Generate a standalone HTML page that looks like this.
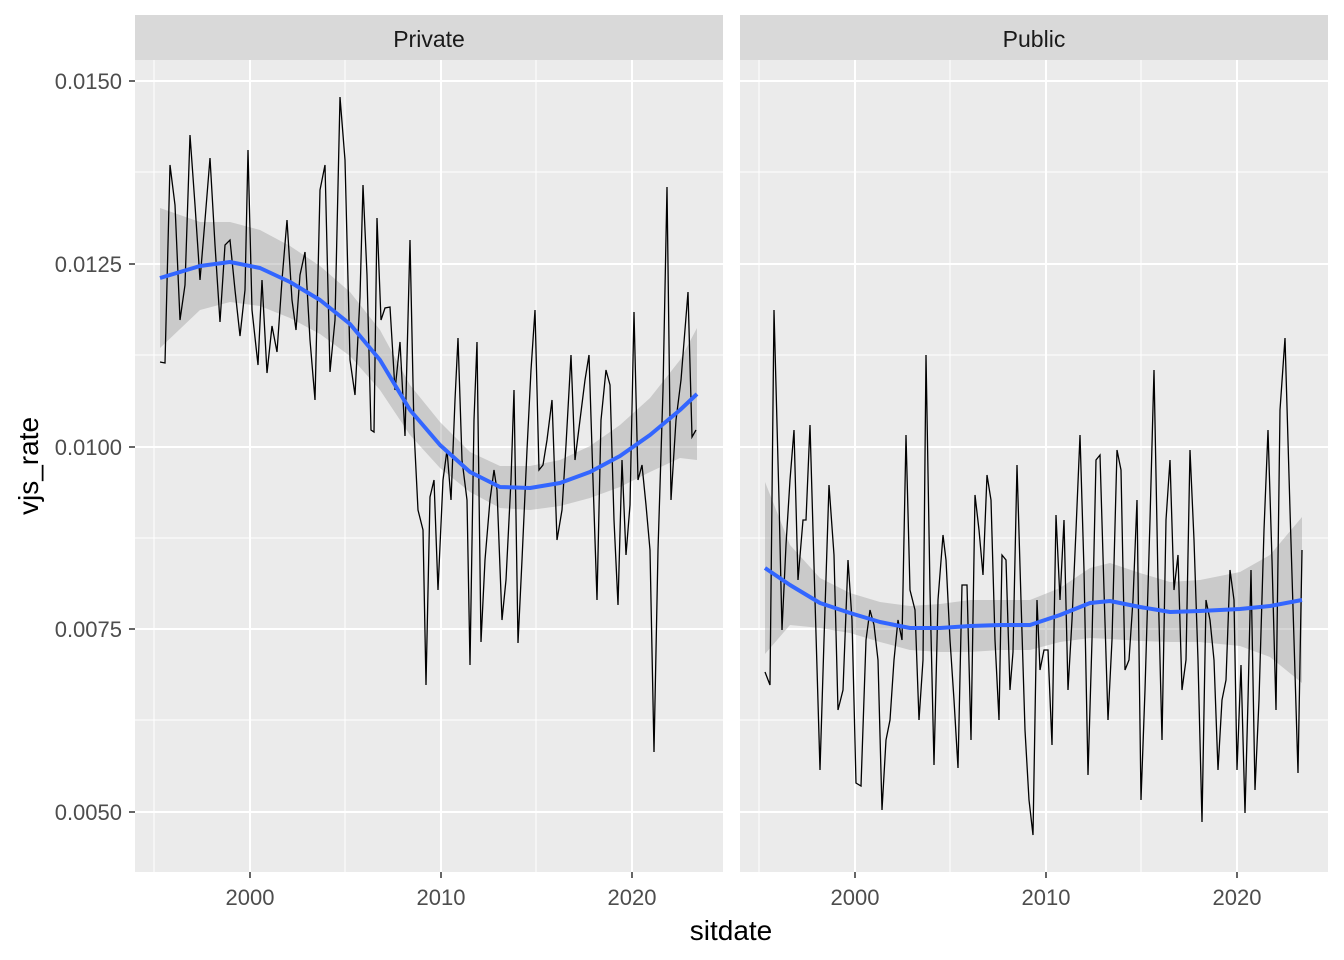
<!DOCTYPE html>
<html><head><meta charset="utf-8"><style>body{margin:0;background:#fff}svg{display:block}text{font-family:"Liberation Sans",sans-serif}</style></head><body>
<svg width="1344" height="960" viewBox="0 0 1344 960">
<rect width="1344" height="960" fill="#fff"/>
<rect x="135" y="60" width="588" height="812" fill="#EBEBEB"/>
<rect x="740" y="60" width="588" height="812" fill="#EBEBEB"/>
<rect x="135" y="15" width="588" height="45" fill="#D9D9D9"/>
<rect x="740" y="15" width="588" height="45" fill="#D9D9D9"/>
<text x="429" y="47" font-size="23" text-anchor="middle" fill="#1A1A1A">Private</text>
<text x="1034" y="47" font-size="23" text-anchor="middle" fill="#1A1A1A">Public</text>
<g stroke="#fff" stroke-width="1">
<path d="M135 172H723M135 355H723M135 538H723M135 720H723M740 172H1328M740 355H1328M740 538H1328M740 720H1328M154 60V872M345 60V872M536 60V872M759 60V872M950 60V872M1141 60V872"/>
</g>
<g stroke="#fff" stroke-width="2">
<path d="M135 81H723M135 264H723M135 447H723M135 629H723M135 812H723M740 81H1328M740 264H1328M740 447H1328M740 629H1328M740 812H1328M250 60V872M441 60V872M632 60V872M855 60V872M1046 60V872M1237 60V872"/>
</g>
<path fill="#999" fill-opacity="0.4" d="M160 208 L200 222 L230 222 L260 230 L290 246 L320 266 L350 292 L380 330 L410 385 L440 422 L470 452 L500 466 L530 466 L560 460 L590 446 L620 425 L650 398 L680 360 L697 328 L697 460 L680 458 L650 472 L620 487 L590 498 L560 506 L530 510 L500 508 L470 492 L440 468 L410 435 L380 390 L350 356 L320 334 L290 318 L260 306 L230 302 L200 310 L160 348Z"/>
<path fill="#999" fill-opacity="0.4" d="M765 482 L790 545 L820 578 L850 593 L880 602 L910 606 L940 604 L970 600 L1000 600 L1030 600 L1060 588 L1090 568 L1110 563 L1140 573 L1170 582 L1200 580 L1240 572 L1270 555 L1302 517 L1302 683 L1270 657 L1240 646 L1200 642 L1170 642 L1140 641 L1110 639 L1090 638 L1060 642 L1030 650 L1000 650 L970 652 L940 652 L910 650 L880 642 L850 633 L820 628 L790 625 L765 654Z"/>
<polyline fill="none" stroke="#000" stroke-width="1.3" points="160,362 165,363 170,165 175,205 180,320 185,285 190,135 195,205 200,280 205,220 210,158 215,245 220,322 225,245 230,240 235,290 240,336 245,290 248,150 252,310 258,365 262,280 267,373 272,326 277,352 282,280 287,220 292,300 296,330 300,275 305,252 310,340 315,400 320,190 325,165 330,372 335,320 340,97 345,160 350,360 355,395 360,297 363,185 367,275 371,430 374,432 377,218 381,320 385,308 390,307 395,390 400,342 405,436 410,240 414,430 418,510 423,530 426,685 430,497 434,480 438,590 443,480 447,450 451,500 455,400 458,338 462,460 467,500 470,665 474,420 477,342 481,642 485,560 490,500 494,470 497,490 502,620 506,580 511,480 514,390 518,643 522,560 527,450 531,370 535,310 539,470 543,465 547,440 552,400 557,540 562,510 566,445 571,355 575,460 580,420 585,380 589,355 593,480 597,600 601,420 606,370 610,385 614,520 618,605 622,460 626,555 630,505 634,312 638,480 642,465 646,505 650,550 654,752 658,550 663,390 667,187 671,500 676,420 681,380 684,342 688,292 692,437 696,430"/>
<polyline fill="none" stroke="#000" stroke-width="1.3" points="765,672 770,685 774,310 779,500 782,630 786,545 790,480 794,430 798,580 803,520 806,520 810,425 815,600 820,770 824,640 829,485 834,555 838,710 843,690 848,560 852,620 856,783 861,786 866,640 870,610 874,625 878,660 882,810 886,740 890,720 894,660 898,620 902,640 906,435 910,590 915,610 919,720 923,660 926,355 930,590 934,765 938,600 943,535 946,560 950,640 954,700 958,768 962,585 967,585 971,740 975,495 979,530 983,575 987,475 991,500 995,640 999,720 1002,555 1006,560 1010,690 1013,652 1017,465 1021,600 1025,730 1029,800 1033,835 1037,600 1040,670 1044,650 1048,650 1052,745 1056,515 1060,600 1064,520 1068,690 1072,620 1076,530 1080,435 1084,570 1088,775 1092,640 1096,460 1100,455 1104,590 1108,720 1112,640 1117,450 1121,470 1125,670 1129,660 1133,600 1137,500 1141,800 1145,690 1150,520 1154,370 1158,580 1162,740 1166,520 1170,460 1174,590 1178,555 1182,690 1186,660 1190,450 1194,540 1198,660 1202,822 1206,600 1210,620 1214,660 1218,770 1222,700 1226,680 1230,570 1234,600 1237,770 1241,665 1245,813 1248,700 1251,570 1255,790 1259,700 1264,530 1268,430 1272,560 1276,710 1280,410 1285,338 1290,510 1294,640 1298,773 1302,550"/>
<polyline fill="none" stroke="#3366FF" stroke-width="4" stroke-linejoin="round" points="160,278 200,266 230,262 260,268 290,282 320,300 350,324 380,360 410,410 440,445 470,472 500,487 530,488 560,483 590,472 620,456 650,435 680,410 697,394"/>
<polyline fill="none" stroke="#3366FF" stroke-width="4" stroke-linejoin="round" points="765,568 790,585 820,603 850,613 880,622 910,628 940,628 970,626 1000,625 1030,625 1060,615 1090,603 1110,601 1140,607 1170,612 1200,611 1240,609 1270,606 1302,600"/>
<g stroke="#333" stroke-width="1.5">
<path d="M129 81H135M129 264H135M129 447H135M129 629H135M129 812H135M250 872V878M441 872V878M632 872V878M855 872V878M1046 872V878M1237 872V878"/>
</g>
<g font-size="22" fill="#4D4D4D">
<text x="122" y="89" text-anchor="end">0.0150</text>
<text x="122" y="272" text-anchor="end">0.0125</text>
<text x="122" y="455" text-anchor="end">0.0100</text>
<text x="122" y="637" text-anchor="end">0.0075</text>
<text x="122" y="820" text-anchor="end">0.0050</text>
<g text-anchor="middle">
<text x="250" y="905">2000</text><text x="441" y="905">2010</text><text x="632" y="905">2020</text>
<text x="855" y="905">2000</text><text x="1046" y="905">2010</text><text x="1237" y="905">2020</text>
</g></g>
<text x="731" y="940" font-size="28" text-anchor="middle" fill="#000">sitdate</text>
<text transform="translate(38,466) rotate(-90)" font-size="28" text-anchor="middle" fill="#000">vjs_rate</text>
</svg>
</body></html>
